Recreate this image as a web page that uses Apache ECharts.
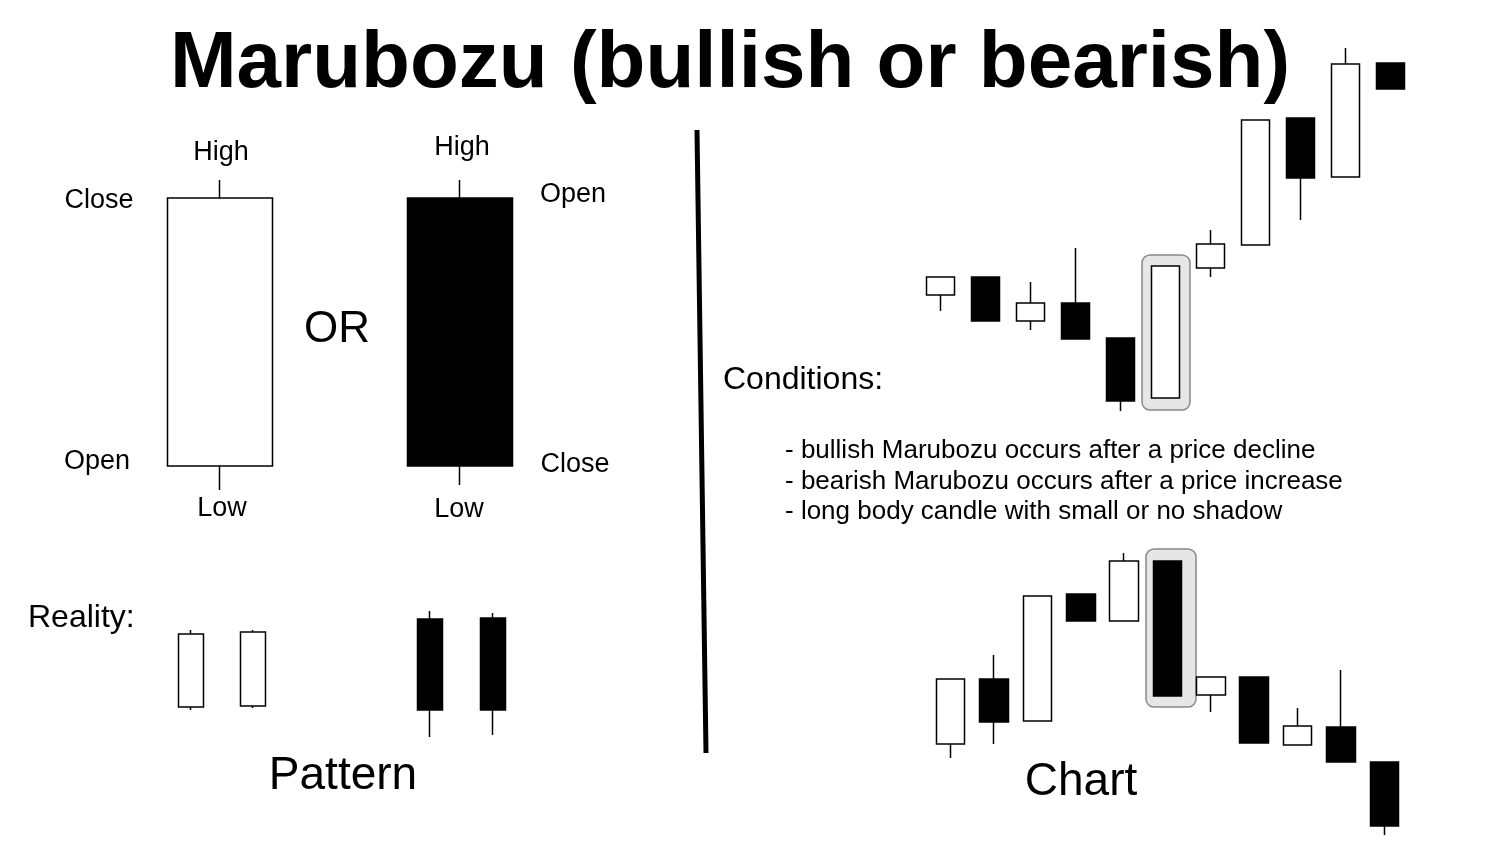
<!DOCTYPE html>
<html>
<head>
<meta charset="utf-8">
<script src="https://cdn.jsdelivr.net/npm/echarts@6/dist/echarts.min.js"></script>
<style>html,body{margin:0;background:#fff}#main{width:1500px;height:844px}</style>
</head>
<body>
<div id="main"></div>
<script>
// candles as [open, close, low, high], price units = picture height - y
var patternCats = ['bullish', 'bearish'];
var patternData = [[378, 646, 354, 664], [646, 378, 359, 664]];
var realityWhiteCats = ['w1', 'w2'];
var realityWhite = [[137, 210, 134, 214], [138, 212, 136, 214]];
var realityBlackCats = ['b1', 'b2'];
var realityBlack = [[225, 134, 107, 233], [226, 134, 109, 231]];
var topCats = ['1','2','3','4','5','6','7','8','9','10','11'];
var topData = [
    [549, 567, 533, 567], [567, 523, 523, 567], [523, 541, 514, 562], [541, 505, 505, 596],
    [506, 443, 433, 506], [446, 578, 446, 578], [576, 600, 567, 614], [599, 724, 599, 724],
    [726, 666, 624, 726], [667, 780, 667, 796], [781, 755, 755, 781]
];
var bottomCats = ['1','2','3','4','5','6','7','8','9','10','11'];
var bottomData = [
    [100, 165, 86, 165], [165, 122, 100, 189], [123, 248, 123, 248], [250, 223, 223, 250],
    [223, 283, 223, 291], [283, 148, 148, 283], [149, 167, 132, 167], [167, 101, 101, 167],
    [99, 118, 99, 136], [117, 82, 82, 174], [82, 18, 9, 82]
];
var conditionLines = [
    '- bullish Marubozu occurs after a price decline',
    '- bearish Marubozu occurs after a price increase',
    '- long body candle with small or no shadow'
];

var chart = echarts.init(document.getElementById('main'));
var font = 'Liberation Sans, Arial, sans-serif';

var grids = [
    {left: 100, width: 480},
    {left: 160, width: 124},
    {left: 398.5, width: 126},
    {left: 918, width: 495},
    {left: 929, width: 477}
];
var cats = [patternCats, realityWhiteCats, realityBlackCats, topCats, bottomCats];
var datas = [patternData, realityWhite, realityBlack, topData, bottomData];
var widths = [106, 25, 25, 29, 29];

var candleStyle = {color: '#fff', color0: '#000', borderColor: '#000', borderColor0: '#000', borderWidth: 1.5};

function txt(x, y, s, size, align, weight) {
    return {type: 'text', x: x, y: y, z: 10, style: {text: s, font: (weight || 'normal') + ' ' + size + 'px ' + font,
        fill: '#000', align: align || 'center', verticalAlign: 'middle'}};
}

var graphic = [
    txt(730, 65, 'Marubozu (bullish or bearish)', 80, 'center', 'bold'),
    {type: 'line', z: 10, shape: {x1: 697, y1: 130, x2: 706, y2: 753}, style: {stroke: '#000', lineWidth: 5}},
    txt(221, 153, 'High', 27), txt(99, 201, 'Close', 27), txt(97, 462, 'Open', 27), txt(222, 509, 'Low', 27),
    txt(337, 330, 'OR', 44),
    txt(462, 148, 'High', 27), txt(573, 195, 'Open', 27), txt(575, 465, 'Close', 27), txt(459, 510, 'Low', 27),
    txt(28, 618, 'Reality:', 32, 'left'),
    txt(343, 776, 'Pattern', 46),
    txt(723, 380, 'Conditions:', 32, 'left'),
    txt(1081, 782, 'Chart', 46),
    {type: 'rect', z: 0, shape: {x: 1142, y: 255, width: 48, height: 155, r: 8}, style: {fill: '#e6e6e6', stroke: '#888', lineWidth: 1.5}},
    {type: 'rect', z: 0, shape: {x: 1146, y: 549, width: 50, height: 158, r: 8}, style: {fill: '#e6e6e6', stroke: '#888', lineWidth: 1.5}}
];
conditionLines.forEach(function (s, i) {
    graphic.push(txt(785, 451 + i * 30.5, s, 26, 'left'));
});

var option = {
    animation: false,
    backgroundColor: '#fff',
    graphic: graphic,
    grid: grids.map(function (g) { return {left: g.left, width: g.width, top: 0, height: 844}; }),
    xAxis: grids.map(function (g, i) {
        return {type: 'category', gridIndex: i, data: cats[i], show: false};
    }),
    yAxis: grids.map(function (g, i) {
        return {type: 'value', gridIndex: i, min: 0, max: 844, show: false, splitLine: {show: false}};
    }),
    series: datas.map(function (d, i) {
        return {type: 'candlestick', xAxisIndex: i, yAxisIndex: i, data: d, barWidth: widths[i],
            z: 5, itemStyle: candleStyle};
    })
};
chart.setOption(option);
</script>
</body>
</html>
